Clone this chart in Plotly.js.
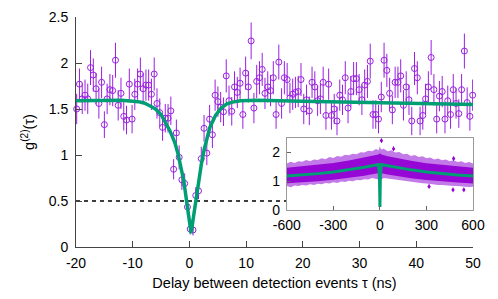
<!DOCTYPE html>
<html>
<head>
<meta charset="utf-8">
<script src="https://cdn.plot.ly/plotly-3.0.1.min.js"></script>
<style>html,body{margin:0;padding:0;background:#fff;}#chart{width:498px;height:299px;}</style>
</head>
<body>
<div id="chart"></div>
<script>
// ---- Main plot: measured g2 (delay in ns) ----
var delayNs = [-19.88,-19.39,-18.90,-18.41,-17.93,-17.44,-16.95,-16.46,-15.97,-15.49,
-15.00,-14.51,-14.02,-13.53,-13.04,-12.56,-12.07,-11.58,-11.09,-10.60,
-10.11,-9.63,-9.14,-8.65,-8.16,-7.67,-7.19,-6.70,-6.21,-5.72,
-5.23,-4.74,-4.26,-3.77,-3.28,-2.79,-2.30,-1.81,-1.33,-0.84,
-0.35,0.14,0.63,1.12,1.60,2.09,2.58,3.07,3.56,4.05,
4.53,5.02,5.51,6.00,6.49,6.98,7.46,7.95,8.44,8.93,
9.42,9.91,10.39,10.88,11.37,11.86,12.35,12.83,13.32,13.81,
14.30,14.79,15.28,15.76,16.25,16.74,17.23,17.72,18.21,18.69,
19.18,19.67,20.16,20.65,21.14,21.62,22.11,22.60,23.09,23.58,
24.07,24.55,25.04,25.53,26.02,26.51,26.99,27.48,27.97,28.46,
28.95,29.44,29.92,30.41,30.90,31.39,31.88,32.37,32.85,33.34,
33.83,34.32,34.81,35.30,35.78,36.27,36.76,37.25,37.74,38.22,
38.71,39.20,39.69,40.18,40.67,41.15,41.64,42.13,42.62,43.11,
43.60,44.08,44.57,45.06,45.55,46.04,46.52,47.01,47.50,47.99,
48.48,48.97,49.45,49.94];
var g2Values = [1.50,1.77,1.61,1.65,1.61,1.95,1.87,1.72,1.56,1.79,
1.33,1.61,1.71,1.70,2.03,1.54,1.67,1.42,1.38,1.77,
1.39,1.66,1.77,1.88,1.72,1.76,1.76,1.66,1.88,1.56,
1.46,1.30,1.40,1.40,1.48,0.845,1.24,0.975,0.73,0.69,
0.435,0.196,0.185,0.56,0.61,0.96,1.29,1.02,1.39,1.22,
1.65,1.58,1.52,1.47,1.86,1.59,1.475,1.74,1.68,1.78,
1.44,1.89,1.74,2.24,1.51,1.80,1.84,1.93,1.67,1.74,
1.70,1.84,1.44,2.01,1.56,1.84,1.82,1.62,1.66,1.68,
1.69,1.82,1.50,1.60,1.48,1.79,1.74,1.59,1.61,1.79,
1.43,1.77,1.43,1.50,1.37,1.65,1.60,1.84,1.51,1.69,
1.83,1.83,1.71,1.60,1.76,1.80,2.02,1.44,1.44,1.39,
1.63,2.03,1.92,1.67,1.49,1.79,1.79,1.86,1.54,1.74,
1.60,1.37,1.94,1.84,1.37,1.43,1.61,1.74,2.06,1.71,
1.39,1.64,1.69,1.39,1.59,1.44,1.71,1.56,1.45,1.71,
2.13,1.57,1.42,1.65];
var g2Errors = [.165,.17,.165,.17,.165,.19,.18,.17,.165,.17,
.145,.165,.17,.17,.19,.165,.17,.155,.155,.17,
.155,.17,.17,.18,.17,.17,.17,.17,.18,.165,
.155,.145,.155,.155,.155,.11,.145,.13,.11,.11,
.09,.06,.06,.09,.09,.13,.145,.13,.155,.145,
.17,.165,.165,.155,.18,.165,.155,.17,.17,.17,
.155,.18,.17,.2,.165,.18,.18,.18,.17,.17,
.17,.18,.155,.19,.165,.18,.18,.165,.17,.17,
.17,.18,.165,.165,.155,.17,.17,.165,.165,.17,
.155,.17,.155,.165,.155,.17,.165,.18,.165,.17,
.18,.18,.17,.165,.17,.18,.19,.155,.155,.155,
.165,.19,.18,.17,.155,.17,.17,.18,.165,.17,
.165,.155,.18,.18,.155,.155,.165,.17,.19,.17,
.155,.165,.17,.155,.165,.155,.17,.165,.155,.17,
.19,.165,.155,.17];

// fitted curve
var fitT = [-20,-12,-9,-8,-7,-6,-5,-4,-3.5,-3,-2.5,-2,-1.5,-1,-0.5,0,0.3,0.6,1.1,1.6,2.1,2.6,3.1,3.6,4.6,5.6,6.6,7.6,9,12,20,30,40,50];
var fitV = [1.59,1.595,1.58,1.565,1.535,1.50,1.44,1.33,1.27,1.20,1.12,1.01,0.88,0.72,0.50,0.28,0.15,0.28,0.50,0.72,0.90,1.06,1.20,1.30,1.43,1.51,1.555,1.575,1.59,1.595,1.585,1.575,1.565,1.55];

var thresholdLevel = 0.5;

// axis tick labels
var xTickVals = [-20,-10,0,10,20,30,40,50];
var xTickText = ['-20','-10','0','10','20','30','40','50'];
var yTickVals = [0,0.5,1,1.5,2,2.5];
var yTickText = ['0','0.5','1','1.5','2','2.5'];

// ---- Inset: long time scale ----
var insetBandT = [-600,-575,-550,-525,-500,-475,-450,-425,-400,-375,-350,-325,-300,-275,-250,-225,-200,-175,-150,-125,-100,-75,-50,-25,-8,-2,0,2,8,25,50,75,100,125,150,175,200,225,250,275,300,325,350,375,400,425,450,475,500,525,550,575,600];
var insetOuterUp = [1.62,1.68,1.64,1.70,1.68,1.74,1.70,1.76,1.74,1.80,1.77,1.84,1.81,1.88,1.85,1.92,1.90,1.96,1.94,2.01,2.00,2.06,2.04,2.12,2.08,2.18,2.22,2.18,2.10,2.13,2.04,2.08,2.00,2.02,1.94,1.96,1.88,1.91,1.84,1.87,1.80,1.83,1.76,1.79,1.73,1.76,1.70,1.73,1.67,1.70,1.64,1.67,1.62];
var insetOuterLo = [0.84,0.80,0.86,0.84,0.88,0.86,0.90,0.88,0.92,0.90,0.95,0.93,0.97,0.95,1.00,0.98,1.02,1.01,1.05,1.04,1.08,1.07,1.12,1.10,1.07,0.60,0.12,0.60,1.07,1.12,1.10,1.08,1.07,1.05,1.03,1.01,1.00,0.97,0.96,0.94,0.93,0.91,0.90,0.88,0.88,0.86,0.86,0.84,0.84,0.82,0.82,0.81,0.82];
var insetCoreT = [-600,-500,-400,-300,-200,-100,-50,-10,0,10,50,100,200,300,400,500,600];
var insetCoreUp = [1.47,1.52,1.58,1.64,1.72,1.82,1.88,1.93,1.97,1.93,1.87,1.81,1.71,1.63,1.57,1.51,1.47];
var insetCoreLo = [0.94,0.97,1.01,1.06,1.12,1.20,1.25,1.28,1.26,1.28,1.24,1.19,1.11,1.05,1.00,0.96,0.93];
var insetOutT = [88,317,471,541,475,10];
var insetOutV = [2.13,0.83,0.71,0.71,1.79,2.41];
var insetOutErr = [0.08,0.08,0.08,0.08,0.08,0.08];
var insetFitT = [-600,-500,-400,-300,-200,-100,-50,-10,-3,0.3,3,10,50,100,200,300,400,500,600];
var insetFitV = [1.19,1.22,1.27,1.33,1.40,1.49,1.54,1.58,1.20,0.12,1.20,1.58,1.54,1.49,1.40,1.33,1.27,1.22,1.19];

var insetXTickVals = [-600,-300,0,300,600];
var insetXTickText = ['-600','-300','0','300','600'];
var insetYTickVals = [0,1,2];
var insetYTickText = ['0','1','2'];

var mainXRange = [-20,50];
var insetXDomain = [0.531,1];
var insetYDomain = [0.159,0.474];

var purple = '#9400D3';
var green = '#009E73';

// dashed line stops where the inset box begins
var dashEnd = mainXRange[0] + insetXDomain[0]*(mainXRange[1]-mainXRange[0]);

var traces = [
  {x:[mainXRange[0], dashEnd], y:[thresholdLevel, thresholdLevel], mode:'lines', xaxis:'x', yaxis:'y',
   line:{color:'#000', width:1.3, dash:'4px,4px'}, hoverinfo:'skip'},
  {x:delayNs, y:g2Values, mode:'markers', xaxis:'x', yaxis:'y', cliponaxis:false,
   marker:{symbol:'circle-open', size:6, color:'#9a1fe0', line:{width:1, color:'#9a1fe0'}},
   error_y:{type:'data', array:g2Errors, visible:true, color:'#9a1fe0', thickness:1, width:0}},
  {x:fitT, y:fitV, mode:'lines', xaxis:'x', yaxis:'y', line:{color:green, width:3.5}},

  {x:insetBandT, y:insetOuterLo, mode:'lines', xaxis:'x2', yaxis:'y2', line:{width:0, color:'rgba(0,0,0,0)'}, hoverinfo:'skip'},
  {x:insetBandT, y:insetOuterUp, mode:'lines', xaxis:'x2', yaxis:'y2', fill:'tonexty', fillcolor:'rgba(158,40,220,0.62)', line:{width:0, color:'rgba(0,0,0,0)'}, hoverinfo:'skip'},
  {x:insetCoreT, y:insetCoreLo, mode:'lines', xaxis:'x2', yaxis:'y2', line:{width:0, color:'rgba(0,0,0,0)'}, hoverinfo:'skip'},
  {x:insetCoreT, y:insetCoreUp, mode:'lines', xaxis:'x2', yaxis:'y2', fill:'tonexty', fillcolor:'rgba(148,0,211,0.95)', line:{width:0, color:'rgba(0,0,0,0)'}, hoverinfo:'skip'},
  {x:insetOutT, y:insetOutV, mode:'markers', xaxis:'x2', yaxis:'y2',
   marker:{symbol:'circle', size:3, color:purple},
   error_y:{type:'data', array:insetOutErr, visible:true, color:purple, thickness:1, width:0}},
  {x:insetFitT, y:insetFitV, mode:'lines', xaxis:'x2', yaxis:'y2', line:{color:green, width:3}}
];

var axisFont = {family:'Liberation Sans, Arial, Helvetica, sans-serif', size:14, color:'#000'};
var titleFont = {family:'Liberation Sans, Arial, Helvetica, sans-serif', size:14.5, color:'#000'};

var layout = {
  width:498, height:299,
  margin:{l:76, r:25, t:17, b:52, pad:0},
  paper_bgcolor:'#fff', plot_bgcolor:'#fff',
  showlegend:false,
  font:axisFont,
  xaxis:{domain:[0,1], anchor:'y', range:mainXRange, tickvals:xTickVals, ticktext:xTickText,
    ticks:'inside', ticklen:6, tickwidth:1, tickcolor:'#444', showline:true, linecolor:'#444', linewidth:1,
    showgrid:false, zeroline:false, tickfont:axisFont, ticklabelstandoff:3,
    title:{text:'Delay between detection events τ (ns)', font:titleFont, standoff:8}},
  yaxis:{domain:[0,1], anchor:'x', range:[0,2.5], tickvals:yTickVals, ticktext:yTickText,
    ticks:'inside', ticklen:6, tickwidth:1, tickcolor:'#444', showline:true, linecolor:'#444', linewidth:1,
    showgrid:false, zeroline:false, tickfont:axisFont, ticklabelstandoff:4,
    title:{text:'g<sup>(2)</sup>(τ)', font:titleFont, standoff:10}},
  xaxis2:{domain:insetXDomain, anchor:'y2', range:[-600,600], tickvals:insetXTickVals, ticktext:insetXTickText,
    ticks:'inside', ticklen:4, tickwidth:1, tickcolor:'#666', showline:true, mirror:true, linecolor:'#999', linewidth:1,
    showgrid:false, zeroline:false, tickfont:axisFont, ticklabelstandoff:2},
  yaxis2:{domain:insetYDomain, anchor:'x2', range:[0,2.5], tickvals:insetYTickVals, ticktext:insetYTickText,
    ticks:'inside', ticklen:4, tickwidth:1, tickcolor:'#666', showline:true, mirror:true, linecolor:'#999', linewidth:1,
    showgrid:false, zeroline:false, tickfont:axisFont, ticklabelstandoff:3}
};

Plotly.newPlot('chart', traces, layout, {staticPlot:true, displayModeBar:false});
</script>
</body>
</html>
